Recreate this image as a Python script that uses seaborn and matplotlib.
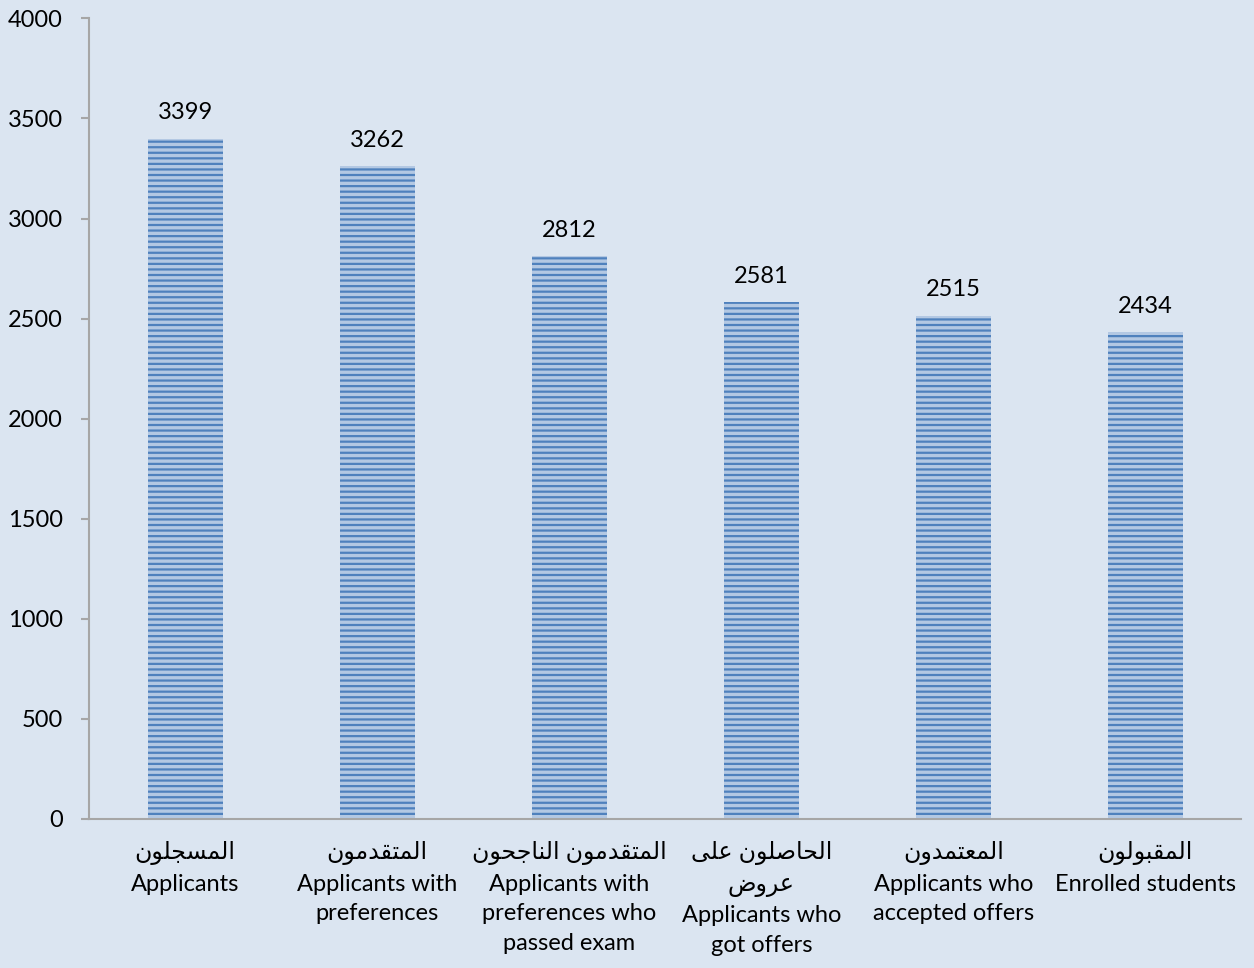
import pandas as pd
import matplotlib.pyplot as plt
import seaborn as sns

ARABIC = ['المسجلون', 'المتقدمون', 'المتقدمون الناجحون', 'الحاصلون على\nعروض', 'المعتمدون', 'المقبولون']
ENGLISH = ['Applicants', 'Applicants with\npreferences', 'Applicants with\npreferences who\npassed exam',
           'Applicants who\ngot offers', 'Applicants who\naccepted offers', 'Enrolled students']
VALUES = [3399, 3262, 2812, 2581, 2515, 2434]
Y_TICKS = [0, 500, 1000, 1500, 2000, 2500, 3000, 3500, 4000]

# presentation forms: isolated, final, initial, medial (None = does not join forward)
FORMS = {
    'ا': ('\uFE8D', '\uFE8E', None, None),
    'ب': ('\uFE8F', '\uFE90', '\uFE91', '\uFE92'),
    'ت': ('\uFE95', '\uFE96', '\uFE97', '\uFE98'),
    'ج': ('\uFE9D', '\uFE9E', '\uFE9F', '\uFEA0'),
    'ح': ('\uFEA1', '\uFEA2', '\uFEA3', '\uFEA4'),
    'د': ('\uFEA9', '\uFEAA', None, None),
    'ر': ('\uFEAD', '\uFEAE', None, None),
    'س': ('\uFEB1', '\uFEB2', '\uFEB3', '\uFEB4'),
    'ص': ('\uFEB9', '\uFEBA', '\uFEBB', '\uFEBC'),
    'ض': ('\uFEBD', '\uFEBE', '\uFEBF', '\uFEC0'),
    'ع': ('\uFEC9', '\uFECA', '\uFECB', '\uFECC'),
    'ق': ('\uFED5', '\uFED6', '\uFED7', '\uFED8'),
    'ل': ('\uFEDD', '\uFEDE', '\uFEDF', '\uFEE0'),
    'م': ('\uFEE1', '\uFEE2', '\uFEE3', '\uFEE4'),
    'ن': ('\uFEE5', '\uFEE6', '\uFEE7', '\uFEE8'),
    'و': ('\uFEED', '\uFEEE', None, None),
    'ى': ('\uFEEF', '\uFEF0', None, None),
}


def shape_line(line):
    out = []
    for i, ch in enumerate(line):
        if ch not in FORMS:
            out.append(ch)
            continue
        prev = line[i - 1] if i > 0 else ''
        nxt = line[i + 1] if i + 1 < len(line) else ''
        join_prev = prev in FORMS and FORMS[prev][2] is not None
        join_next = FORMS[ch][2] is not None and nxt in FORMS
        iso, fin, ini, med = FORMS[ch]
        if join_prev and join_next:
            out.append(med)
        elif join_prev:
            out.append(fin)
        elif join_next:
            out.append(ini)
        else:
            out.append(iso)
    return ''.join(reversed(out))


def shape(text):
    return '\n'.join(shape_line(l) for l in text.split('\n'))


labels = [shape(a) + '\n' + e for a, e in zip(ARABIC, ENGLISH)]
df = pd.DataFrame({'stage': labels, 'count': VALUES})

BG = '#DBE5F1'
sns.set_theme(style='white')
plt.rcParams['font.family'] = ['Lato', 'DejaVu Sans']
plt.rcParams['hatch.color'] = '#4F81BD'
plt.rcParams['hatch.linewidth'] = 1.6

fig = plt.figure(figsize=(12.54, 9.68), dpi=100, facecolor=BG)
ax = fig.add_axes([0.071, 0.154, 0.919, 0.827])
ax.set_facecolor(BG)

sns.barplot(data=df, x='stage', y='count', color='#B3C8E3', width=0.39, ax=ax, saturation=1)
for p in ax.patches:
    p.set_hatch('---')
    p.set_edgecolor('#4F81BD')
    p.set_linewidth(0)

ax.bar_label(ax.containers[0], fmt='%d', padding=11, fontsize=17, color='black')

ax.set_ylim(0, 4000)
ax.set_yticks(Y_TICKS)
ax.set_xticks(range(len(labels)))
ax.set_xticklabels(labels, linespacing=1.5, fontsize=17, color='black')
ax.set_xlabel('')
ax.set_ylabel('')
ax.tick_params(axis='y', left=True, length=6, width=1.5, color='#A6A6A6',
               labelsize=17, labelcolor='black', pad=13)
ax.tick_params(axis='x', bottom=False, pad=10)
for side in ['top', 'right']:
    ax.spines[side].set_visible(False)
for side in ['left', 'bottom']:
    ax.spines[side].set_color('#A6A6A6')
    ax.spines[side].set_linewidth(1.5)

fig.savefig('out.png', dpi=100, facecolor=BG)
